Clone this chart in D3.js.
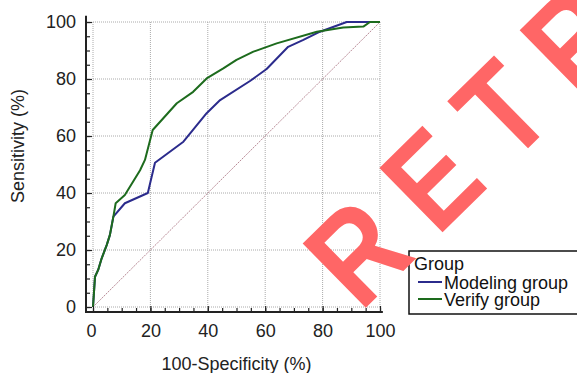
<!DOCTYPE html>
<html>
<head>
<meta charset="utf-8">
<script src="https://cdn.jsdelivr.net/npm/d3@7"></script>
<style>
  html, body { margin: 0; padding: 0; background: #fff; overflow: hidden; }
  svg { display: block; font-family: "Liberation Sans", Arial, Helvetica, sans-serif; }
</style>
</head>
<body>
<div id="wrapper"></div>
<script>
/* DATA */
const modelFpr = [0, 0.7, 1.8, 3, 4.8, 5.9, 7.1, 11.1, 19.1, 21.6, 31.5, 39.6, 44.3, 54.7, 60.5, 68, 73.3, 79.1, 88.4, 100];
const modelTpr = [0, 10.6, 13, 17, 21.8, 25.3, 31.7, 36.4, 40, 50.6, 58, 68, 72.6, 79.3, 83.5, 91.3, 93.7, 96.6, 100, 100];
const verifyFpr = [0, 0.7, 1.8, 3, 4.8, 5.9, 7.1, 7.9, 11.1, 16.4, 18.1, 20.8, 29.2, 34.9, 39.6, 45.4, 50, 55.9, 64, 78, 87.2, 94.2, 96.5, 100];
const verifyTpr = [0, 10.6, 13, 17, 21.8, 25.3, 31.7, 36.4, 39.3, 48, 51.6, 62.1, 71.5, 75.5, 80.2, 83.7, 86.7, 89.6, 92.5, 96.6, 98.1, 98.4, 100, 100];
const majorTicks = [0, 20, 40, 60, 80, 100];
const minorTicks = d3.range(0, 101, 5);
const seriesNames = ["Modeling group", "Verify group"];
const seriesColors = ["#2b2b8c", "#1d6b1d"];
const legendTitle = "Group";
const xTitle = "100-Specificity (%)";
const yTitle = "Sensitivity (%)";
const watermark = "RETRACTED";

const width = 577, height = 373;
const xScale = d3.scaleLinear().domain([0, 100]).range([93, 380]);
const yScale = d3.scaleLinear().domain([0, 100]).range([307, 22]);
const axisX = 86, axisY = 312;

const svg = d3.select("#wrapper").append("svg")
  .attr("width", width).attr("height", height);

/* GRID */
const grid = svg.append("g");
grid.selectAll(".gx").data(majorTicks).join("line")
  .attr("x1", d => xScale(d)).attr("x2", d => xScale(d))
  .attr("y1", yScale(100)).attr("y2", yScale(0))
  .attr("stroke", "#aaa").attr("stroke-width", 1).attr("stroke-dasharray", "1,1");
grid.selectAll(".gy").data(majorTicks).join("line")
  .attr("y1", d => yScale(d)).attr("y2", d => yScale(d))
  .attr("x1", xScale(0)).attr("x2", xScale(100))
  .attr("stroke", "#aaa").attr("stroke-width", 1).attr("stroke-dasharray", "1,1");

// chance line
svg.append("line")
  .attr("x1", xScale(0)).attr("y1", yScale(0))
  .attr("x2", xScale(100)).attr("y2", yScale(100))
  .attr("stroke", "#b88a96").attr("stroke-width", 1).attr("stroke-dasharray", "2,1");

/* CURVES */
const line = d3.line().x(d => xScale(d[0])).y(d => yScale(d[1]));
const series = [
  d3.zip(modelFpr, modelTpr),
  d3.zip(verifyFpr, verifyTpr),
];
series.forEach((pts, i) => {
  svg.append("path")
    .attr("d", line(pts))
    .attr("fill", "none")
    .attr("stroke", seriesColors[i])
    .attr("stroke-width", 2)
    .attr("stroke-linejoin", "round");
});

/* AXES */
const yAxis = svg.append("g").attr("transform", `translate(${axisX},0)`)
  .call(d3.axisLeft(yScale).tickValues(majorTicks).tickSizeInner(-6).tickSizeOuter(0).tickPadding(10));
const yMinor = svg.append("g").attr("transform", `translate(${axisX},0)`)
  .call(d3.axisLeft(yScale).tickValues(minorTicks).tickSizeInner(-4).tickSizeOuter(0).tickFormat(""));
const xAxis = svg.append("g").attr("transform", `translate(0,${axisY})`)
  .call(d3.axisBottom(xScale).tickValues(majorTicks).tickSizeInner(-6).tickSizeOuter(0).tickPadding(12));
const xMinor = svg.append("g").attr("transform", `translate(0,${axisY})`)
  .call(d3.axisBottom(xScale).tickValues(minorTicks).tickSizeInner(-4).tickSizeOuter(0).tickFormat(""));

[yAxis, yMinor, xAxis, xMinor].forEach(g => {
  g.select(".domain").remove();
  g.selectAll("line").attr("stroke", "#222").attr("stroke-width", 1.2);
  g.selectAll("text").attr("font-size", 18).attr("fill", "#222")
    .attr("font-family", '"Liberation Sans", Arial, sans-serif');
});
xAxis.selectAll("text").filter(d => d === 0).attr("dx", -2);

svg.append("line")
  .attr("x1", axisX).attr("x2", axisX)
  .attr("y1", yScale(102.2)).attr("y2", axisY + 1)
  .attr("stroke", "#222").attr("stroke-width", 2);
svg.append("line")
  .attr("x1", axisX - 1).attr("x2", xScale(101))
  .attr("y1", axisY).attr("y2", axisY)
  .attr("stroke", "#222").attr("stroke-width", 2);

svg.append("text")
  .attr("x", (xScale(0) + xScale(100)) / 2).attr("y", 370)
  .attr("text-anchor", "middle").attr("font-size", 18).attr("fill", "#222")
  .text(xTitle);
svg.append("text")
  .attr("transform", `translate(24,146) rotate(-90)`)
  .attr("text-anchor", "middle").attr("font-size", 18).attr("fill", "#222")
  .text(yTitle);

/* LEGEND */
const legend = svg.append("g").attr("transform", "translate(409,251)");
legend.append("rect")
  .attr("width", 180).attr("height", 63)
  .attr("fill", "#fff").attr("stroke", "#111").attr("stroke-width", 1.5);
legend.append("text").attr("x", 5).attr("y", 19)
  .attr("font-size", 18).attr("fill", "#111").text(legendTitle);
seriesNames.forEach((name, i) => {
  const cy = 31 + i * 17;
  legend.append("line")
    .attr("x1", 9).attr("x2", 33).attr("y1", cy).attr("y2", cy)
    .attr("stroke", seriesColors[i]).attr("stroke-width", 2);
  legend.append("text").attr("x", 35).attr("y", cy + 6.5)
    .attr("font-size", 18).attr("fill", "#111").text(name);
});

/* WATERMARK */
svg.append("text")
  .attr("transform", "translate(360.5,313) rotate(-44.5) scale(0.85,1)")
  .attr("font-size", 131).attr("font-weight", "bold")
  .attr("letter-spacing", 32)
  .attr("fill", "#ff6666")
  .text(watermark);
</script>
</body>
</html>
